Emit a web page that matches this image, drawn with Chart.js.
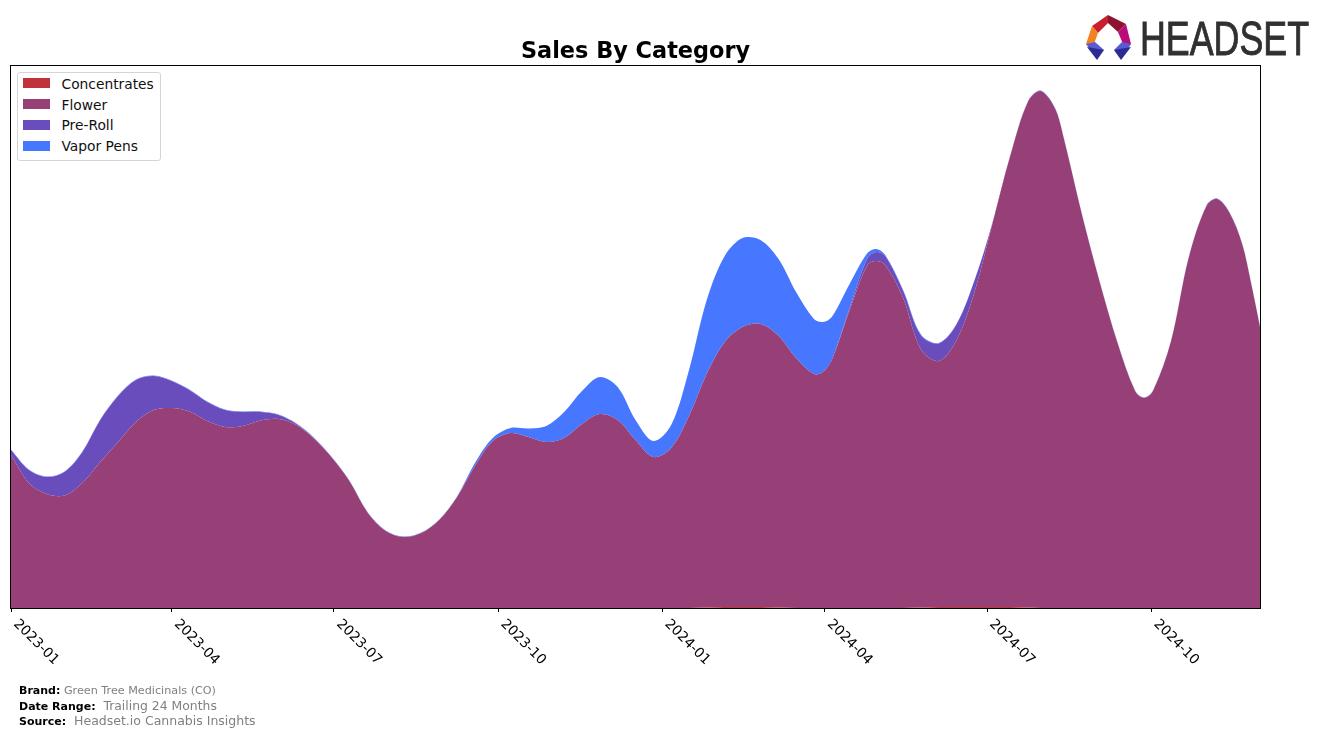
<!DOCTYPE html>
<html lang="en">
	<head>
		<meta charset="UTF-8" />
		<title>Sales By Category</title>
		<script src="https://cdn.jsdelivr.net/npm/chart.js@4.1.2/dist/chart.umd.min.js"></script>
		<style>
			body { margin: 0; background: #fff; font-family: "DejaVu Sans", sans-serif; }
			#wrap { position: relative; width: 1324px; height: 738px; overflow: hidden; }
			#chart { position: absolute; left: 0; top: 0; }
			#legend {
				position: absolute; left: 17px; top: 72px; width: 142px; height: 87px;
				border: 1px solid #d5d5d5; border-radius: 3px; background: #fff;
			}
			.row { position: absolute; left: 5px; font-size: 13.8px; color: #111; white-space: nowrap; line-height: 16px; }
			.swatch { position: absolute; left: 0; top: 2px; width: 27px; height: 10px; }
			.name { position: absolute; left: 38.5px; top: 0; }
			.foot { position: absolute; white-space: nowrap; color: #808080; }
			.foot b { color: #000; font-size: 11px; }
			#logo { position: absolute; left: 1080px; top: 10px; }
		</style>
	</head>
	<body>
		<div id="wrap">
			<canvas id="chart" width="1324" height="738"></canvas>
			<div id="legend"></div>
			<div class="foot" style="left:19px;top:684px;font-size:11.2px"><b>Brand:</b> Green Tree Medicinals (CO)</div>
			<div class="foot" style="left:19px;top:698px;font-size:12.4px"><b>Date Range:</b>&nbsp; Trailing 24 Months</div>
			<div class="foot" style="left:19px;top:713px;font-size:12.5px"><b>Source:</b>&nbsp; Headset.io Cannabis Insights</div>
			<svg id="logo" width="240" height="56" viewBox="1080 10 240 56">
				<polygon points="1092,26 1108,15 1108,23 1098,33" fill="#c8202f" />
				<polygon points="1108,15 1126,24 1118,32 1108,23" fill="#8f1230" />
				<polygon points="1126,24 1131,44 1123,44 1118,32" fill="#b80c78" />
				<polygon points="1092,26 1086,44 1094,44 1098,33" fill="#f58220" />
				<polygon points="1086,44 1095,42 1104,50 1092,52" fill="#5a5ad2" />
				<polygon points="1087,47 1104,50 1097,60" fill="#2b2b92" />
				<polygon points="1131,44 1122,42 1114,50 1126,52" fill="#5a5ad2" />
				<polygon points="1131,47 1114,50 1121,60" fill="#2b2b92" />
				<text x="1140" y="55" textLength="169" lengthAdjust="spacingAndGlyphs"
					font-family="Liberation Sans Narrow, Liberation Sans" font-size="49" fill="#303030"
					stroke="#303030" stroke-width="0.9">HEADSET</text>
			</svg>
		</div>
		<script>
			// days since 2023-01-01
			const days = [0, 10, 20, 30, 40, 50, 60, 70, 80, 90, 100, 110, 120, 130, 140, 150, 160, 170, 180, 190,
				200, 210, 220, 230, 240, 250, 260, 270, 280, 290, 300, 310, 320, 330, 340, 350, 360, 370, 380, 390,
				400, 410, 420, 430, 440, 450, 455, 460, 470, 480, 485, 490, 500, 510, 520, 530, 540, 550, 560, 570,
				577, 585, 590, 600, 610, 620, 630, 635, 640, 650, 660, 670, 676, 683, 690, 695, 700];

			const concentrates = [0, 0, 0, 0, 0, 0, 0, 0, 0, 0, 0, 0, 0, 0, 0, 0, 0, 0, 0, 0,
				0, 0, 0, 0, 0, 0, 0, 0, 0, 0, 0, 0, 0, 0, 0, 0, 0, 0, 0, 0.4,
				1, 1, 1, 0.5, 0, 0, 0, 0, 0, 0, 0, 0, 0, 0.4, 1, 1, 1, 1, 1, 0.5,
				0, 0, 0, 0, 0, 0, 0, 0, 0, 0, 0, 0, 0, 0, 0, 0, 0];

			const flower = [153, 125, 114, 112.5, 125, 146, 166, 186, 198, 200, 196.5, 187, 181, 182, 187.5, 189, 183, 169, 150, 126,
				95, 77, 71, 75, 88, 111, 142, 167, 175, 171, 166, 170, 184, 194, 188, 168, 151, 160, 192, 234,
				265, 280, 283, 272, 250, 234, 236, 248, 298, 343, 347, 343, 310, 258, 246, 267, 315, 383, 451, 506,
				517, 500, 470, 395, 327, 266, 217, 210, 217, 266, 350, 402, 409, 395, 364, 325, 281];

			const preRoll = [5, 13, 17, 23.5, 31, 42, 46, 42, 34, 27, 21.5, 19, 17, 14, 8.5, 4, 1, 0.5, 0, 0,
				0, 0, 0, 0, 0, 0, 0, 0, 0, 0, 0, 0, 0, 0, 0, 0, 0, 0, 0, 0,
				0, 0, 0, 0, 0, 0, 0, 0, 2, 7, 9, 9, 7, 14, 17.5, 16, 11.5, 0.5, 0, 0,
				0, 0, 0, 0, 0, 0, 0, 0, 0, 0, 0, 0, 0, 0, 0, 0, 0];

			const vaporPens = [0.5, 0.5, 0.5, 0.5, 0.5, 0.5, 0.5, 0.5, 0.5, 0.5, 0.5, 0.5, 0.5, 0.5, 0.5, 0.5, 0.5, 0.5, 0.5, 0.5,
				0.5, 0.5, 0.5, 0.5, 0.5, 0.5, 3, 3, 5, 8.5, 16, 26, 33, 37, 33, 20, 16, 23, 46, 74,
				86, 89, 84, 77, 66, 55, 50, 43, 24, 5, 3, 1, 1, 1, 0.5, 0.5, 0.5, 0.5, 0.5, 0.5,
				0.5, 0.5, 0.5, 0.5, 0.5, 0.5, 0.5, 0.5, 0.5, 0.5, 0.5, 0.5, 0.5, 0.5, 0.5, 0.5, 0.5];

			const tickDays = [0, 90, 181, 273, 365, 456, 547, 639];
			const tickLabels = ["2023-01", "2023-04", "2023-07", "2023-10", "2024-01", "2024-04", "2024-07", "2024-10"];

			const seriesNames = ["Concentrates", "Flower", "Pre-Roll", "Vapor Pens"];
			const seriesValues = [concentrates, flower, preRoll, vaporPens];
			const seriesColors = ["#c03338", "#964077", "#6a4dbd", "#4877ff"];

			const datasets = seriesNames.map((name, i) => ({
				label: name,
				data: days.map((d, j) => ({ x: d, y: seriesValues[i][j] })),
				backgroundColor: seriesColors[i],
				borderWidth: 0,
				pointRadius: 0,
				fill: i === 0 ? "origin" : "-1",
				tension: 0.33,
			}));

			// frame round the plot, and the slanted date labels (chart.js only slants them the other way)
			const framePlugin = {
				id: "frame",
				afterDraw(chart) {
					const c = chart.ctx;
					const a = chart.chartArea;
					c.save();
					c.strokeStyle = "#000";
					c.lineWidth = 1;
					c.strokeRect(a.left - 0.5, a.top + 0.5, a.right - a.left + 1, a.bottom - a.top);
					c.fillStyle = "#000";
					c.font = '13.8px "DejaVu Sans"';
					c.textAlign = "left";
					c.textBaseline = "top";
					tickDays.forEach((d, i) => {
						c.save();
						c.translate(chart.scales.x.getPixelForValue(d) + 9.5, a.bottom + 9);
						c.rotate(Math.PI / 4);
						c.fillText(tickLabels[i], 0, 0);
						c.restore();
					});
					c.restore();
				},
			};

			new Chart(document.getElementById("chart"), {
				type: "line",
				data: { datasets },
				plugins: [framePlugin],
				options: {
					responsive: false,
					animation: false,
					layout: { padding: { left: 11, right: 64, top: 0, bottom: 0 } },
					plugins: {
						legend: { display: false },
						tooltip: { enabled: false },
						title: {
							display: true,
							fullSize: false,
							text: "Sales By Category",
							color: "#000",
							font: { family: "DejaVu Sans", size: 22.4, weight: "bold", lineHeight: 1 },
							padding: { top: 41, bottom: 1.6 },
						},
					},
					scales: {
						x: {
							type: "linear",
							min: 0,
							max: 700,
							afterBuildTicks: (s) => { s.ticks = tickDays.map((v) => ({ value: v })); },
							afterFit: (s) => { s.height = 130; },
							ticks: { display: false },
							border: { color: "#000" },
							grid: { drawOnChartArea: false, color: "#000", tickLength: 4 },
						},
						y: { display: false, stacked: true, min: 0, max: 543 },
					},
				},
			});

			const legend = document.getElementById("legend");
			seriesNames.forEach((name, i) => {
				const row = document.createElement("div");
				row.className = "row";
				row.style.top = 3 + i * 21 + "px";
				row.innerHTML = '<span class="swatch" style="background:' + seriesColors[i] + '"></span>'
					+ '<span class="name" style="top:' + (i > 1 ? -1 : 0) + 'px">' + name + "</span>";
				legend.appendChild(row);
			});
		</script>
	</body>
</html>
